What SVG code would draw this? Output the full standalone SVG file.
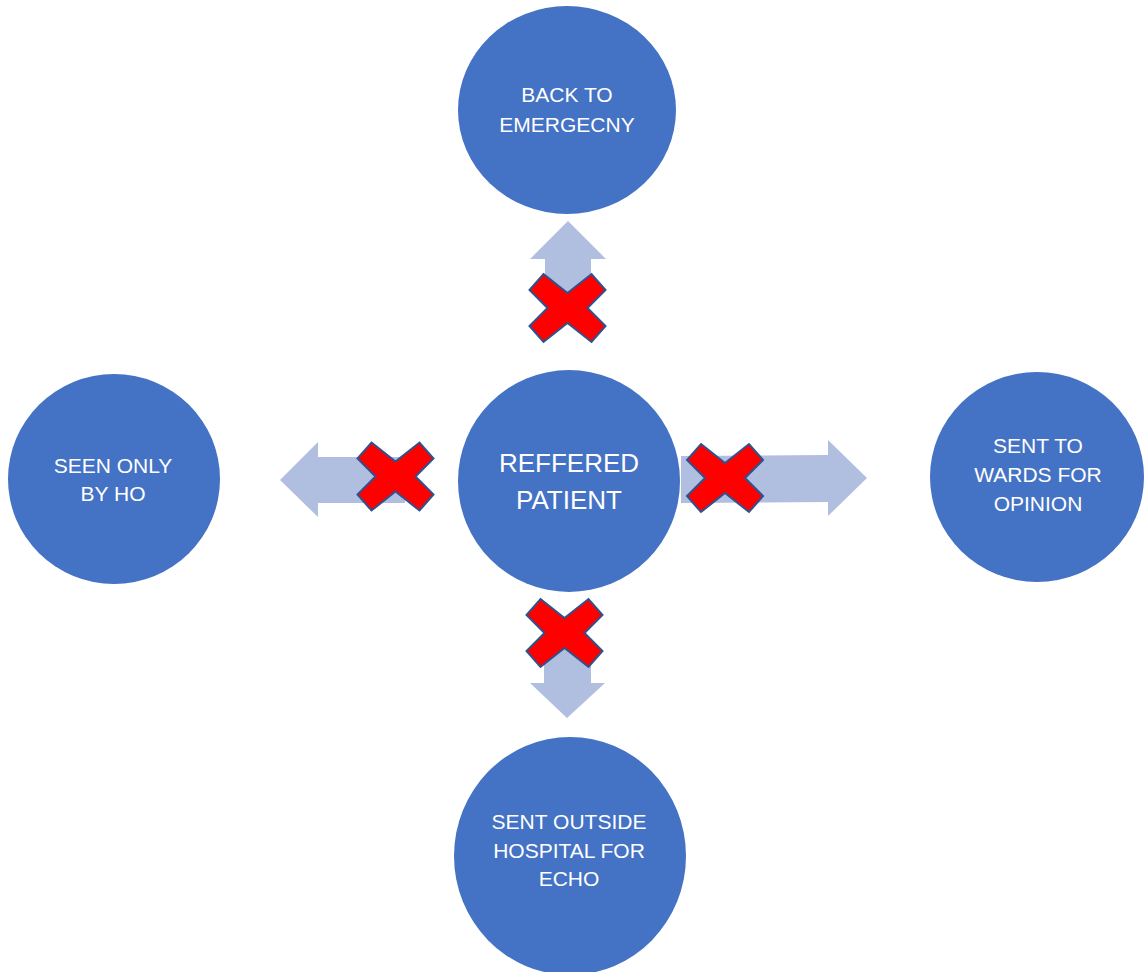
<svg xmlns="http://www.w3.org/2000/svg" width="1144" height="972" viewBox="0 0 1144 972">
  <style>
    .node { fill: #4472C4; }
    .lbl { fill: #FFFFFF; font-family: "Liberation Sans", Arial, sans-serif; font-size: 21px; text-anchor: middle; }
    .big { font-size: 26px; }
    .arrow { fill: #B0BEE0; }
    .cross { fill: #FF0000; stroke: #2F528F; stroke-width: 2; stroke-linejoin: miter; }
  </style>
  <defs>
    <!-- multiply sign, centred on the origin -->
    <polygon id="x-mark" class="cross" points="-24,-34 0,-15 24,-34 38,-18 20,0 38,18 24,34 0,15 -24,34 -38,18 -20,0 -38,-18"/>
  </defs>
  <rect width="1144" height="972" fill="#FFFFFF"/>

  <g id="connectors">
    <!-- up -->
    <polygon class="arrow" points="545,300 545,259 530,259 568,221 606,259 591,259 591,300"/>
    <!-- left -->
    <polygon class="arrow" points="405,457 318,457 318,442 280,480 318,517 318,503 405,503"/>
    <!-- right -->
    <polygon class="arrow" points="681,456 828,455 828,440 867,478 828,516 828,502 681,503"/>
    <!-- down -->
    <polygon class="arrow" points="544,640 544,683 530,683 567,718 605,683 591,683 591,640"/>
    <use href="#x-mark" x="567.5" y="308"/>
    <use href="#x-mark" x="395.5" y="476.5"/>
    <use href="#x-mark" x="725" y="478"/>
    <use href="#x-mark" x="564.5" y="633"/>
  </g>

  <g id="referred-patient">
    <circle class="node" cx="569" cy="481" r="111"/>
    <text class="lbl big" x="569" y="472">REFFERED</text>
    <text class="lbl big" x="569" y="509">PATIENT</text>
  </g>

  <g id="back-to-emergency">
    <ellipse class="node" cx="567" cy="110" rx="109" ry="104"/>
    <text class="lbl" x="567" y="102">BACK TO</text>
    <text class="lbl" x="567" y="132">EMERGECNY</text>
  </g>

  <g id="seen-only-by-ho">
    <ellipse class="node" cx="114" cy="479" rx="106" ry="105"/>
    <text class="lbl" x="113" y="473">SEEN ONLY</text>
    <text class="lbl" x="113" y="501">BY HO</text>
  </g>

  <g id="sent-to-wards">
    <ellipse class="node" cx="1037" cy="477" rx="107" ry="105"/>
    <text class="lbl" x="1038" y="453">SENT TO</text>
    <text class="lbl" x="1038" y="482">WARDS FOR</text>
    <text class="lbl" x="1038" y="511">OPINION</text>
  </g>

  <g id="sent-outside-hospital">
    <ellipse class="node" cx="570" cy="856" rx="116" ry="119"/>
    <text class="lbl" x="569" y="829">SENT OUTSIDE</text>
    <text class="lbl" x="569" y="858">HOSPITAL FOR</text>
    <text class="lbl" x="569" y="886">ECHO</text>
  </g>
</svg>
